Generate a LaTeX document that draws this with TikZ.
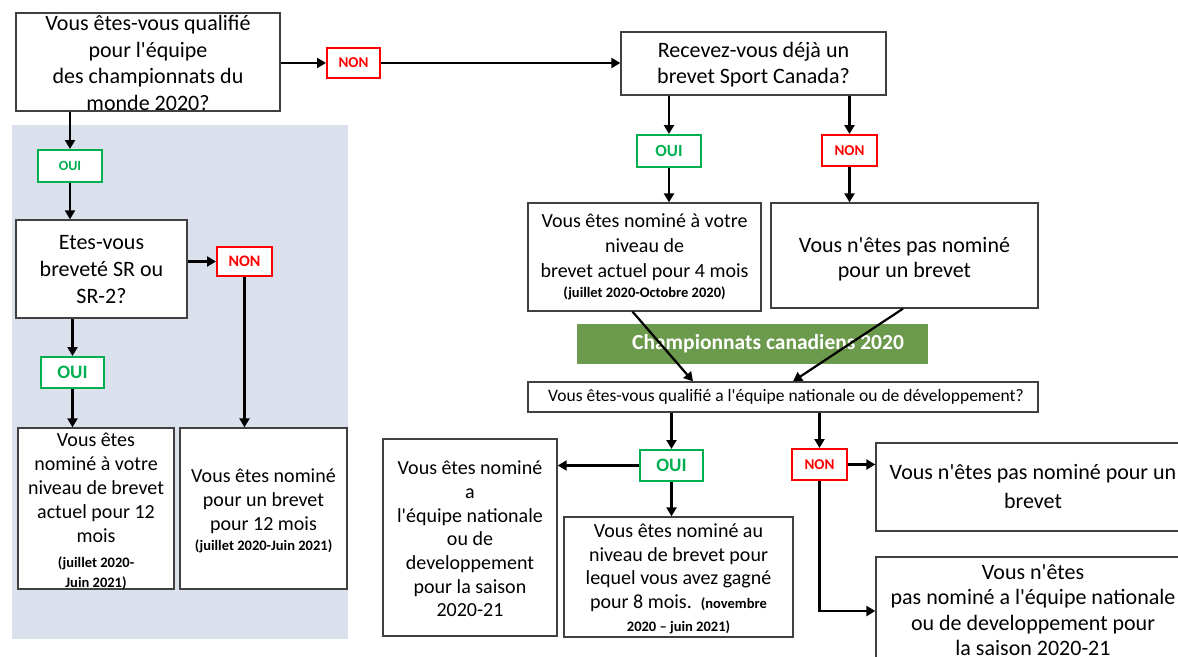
\documentclass[tikz,border=0pt]{standalone}
\usepackage{fontspec}
\setmainfont{Carlito}[Ligatures=TeXOff]
\usepackage{tikz}
\usetikzlibrary{arrows.meta, positioning, calc}
\usepackage{xcolor}

\definecolor{boxgray}{HTML}{404040}
\definecolor{ouigreen}{HTML}{00B050}
\definecolor{nonred}{HTML}{FF0000}
\definecolor{panelblue}{HTML}{DAE0EC}
\definecolor{bannergreen}{HTML}{6C9A4C}

\tikzset{
  box/.style={draw=boxgray, line width=1.3pt, fill=white, inner sep=0pt},
  txt/.style={align=center, inner sep=0pt, font=\fontsize{20}{24}\selectfont},
  small/.style={align=center, inner sep=0pt, font=\bfseries\fontsize{14.5}{20}\selectfont},
  oui/.style={draw=ouigreen, line width=2pt, fill=white, text=ouigreen, inner sep=0pt,
    font=\bfseries\fontsize{15}{15}\selectfont, minimum width=63pt, minimum height=31pt},
  non/.style={draw=nonred, line width=2pt, fill=white, text=nonred, inner sep=0pt,
    font=\bfseries\fontsize{15}{15}\selectfont, minimum width=55pt, minimum height=30pt},
  arr/.style={line width=2.2pt, -{Triangle[length=9pt,width=10pt]}}
}

\begin{document}
\begin{tikzpicture}[x=1pt,y=-1pt]
  \useasboundingbox (0,0) rectangle (1178,656);
  % left panel
  \fill[panelblue] (12,125) rectangle (348,639);

  % questions
  \node[box, minimum width=264pt, minimum height=98pt] (qmonde) at (148,62) {};
  \node[txt, font=\fontsize{22}{26.5}\selectfont] (qmonde-t) at (148,63)
    {Vous êtes-vous qualifié\\pour l'équipe\\des championnats du\\monde 2020?};
  \node[box, minimum width=265pt, minimum height=63pt] (qbrevet) at (753.5,63.5) {};
  \node[txt, font=\fontsize{22}{26}\selectfont] (qbrevet-t) at (753.5,65)
    {Recevez-vous déjà un\\brevet Sport Canada?};
  \node[box, minimum width=171pt, minimum height=98pt] (qsr) at (101.5,269) {};
  \node[txt, font=\fontsize{22}{27}\selectfont] (qsr-t) at (101.5,270)
    {Etes-vous\\breveté SR ou\\SR-2?};
  \node[box, minimum width=510pt, minimum height=30pt] (qnat) at (783,397) {};
  \node[txt, font=\fontsize{17.5}{20}\selectfont] (qnat-t) at (786,397)
    {Vous êtes-vous qualifié a l'équipe nationale ou de développement?};

  % answers
  \node[oui, minimum width=64pt, minimum height=32pt, font=\bfseries\fontsize{14}{14}\selectfont] (oui1) at (70,166) {OUI};
  \node[non, minimum width=53pt] (non1) at (353.5,63) {NON};
  \node[oui, minimum width=64pt, minimum height=32pt, font=\bfseries\fontsize{17}{17}\selectfont] (oui2) at (669,151) {OUI};
  \node[non, minimum height=31pt] (non2) at (849.5,150.5) {NON};
  \node[oui, font=\bfseries\fontsize{19}{19}\selectfont] (oui3) at (671.5,465.5) {OUI};
  \node[non, minimum height=31pt] (non3) at (819.5,464.5) {NON};
  \node[oui, font=\bfseries\fontsize{19}{19}\selectfont] (oui4) at (72.5,372.5) {OUI};
  \node[non, minimum height=29pt, font=\bfseries\fontsize{16}{16}\selectfont] (non4) at (244.5,261.5) {NON};

  % results, right part
  \node[box, minimum width=233pt, minimum height=108pt] (nom4) at (644.5,257) {};
  \node[txt, font=\fontsize{20}{25}\selectfont] (nom4-t) at (644.5,247)
    {Vous êtes nominé à votre\\niveau de\\brevet actuel pour 4 mois};
  \node[small] (nom4-d) at (644.5,293) {(juillet 2020-Octobre 2020)};
  \node[box, minimum width=267pt, minimum height=105pt] (pasnom1) at (904.5,255.5) {};
  \node[txt, font=\fontsize{22}{25}\selectfont] (pasnom1-t) at (904.5,259.5)
    {Vous n'êtes pas nominé\\pour un brevet};
  \node[fill=bannergreen, minimum width=351pt, minimum height=40pt, inner sep=0pt] (banner) at (752.5,344) {};
  \node[text=white, font=\bfseries\fontsize{21.5}{22}\selectfont, inner sep=0pt] (banner-t) at (768,344)
    {Championnats canadiens 2020};
  \node[box, minimum width=174pt, minimum height=197pt] (nomnat) at (470,537.5) {};
  \node[txt, font=\fontsize{20}{23.7}\selectfont] (nomnat-t) at (470,539)
    {Vous êtes nominé\\a\\l'équipe nationale\\ou de\\developpement\\pour la saison\\2020-21};
  \node[box, minimum width=229pt, minimum height=120pt] (nom8) at (678.5,577) {};
  \node[txt, font=\fontsize{20}{23.5}\selectfont] (nom8-t) at (678.5,579)
    {Vous êtes nominé au\\niveau de brevet pour\\lequel vous avez gagné\\pour 8 mois.\ \ {\bfseries\fontsize{14.5}{16}\selectfont(novembre}\\{\bfseries\fontsize{14.5}{16}\selectfont 2020 – juin 2021)}};
  \node[box, minimum width=314pt, minimum height=88pt] (pasnom2) at (1033,487) {};
  \node[txt, font=\fontsize{22}{29}\selectfont] (pasnom2-t) at (1033,487)
    {Vous n'êtes pas nominé pour un\\brevet};
  \node[box, minimum width=314pt, minimum height=108pt] (pasnom3) at (1033,611) {};
  \node[txt, font=\fontsize{22}{25.5}\selectfont] (pasnom3-t) at (1033,610)
    {Vous n'êtes\\pas nominé a l'équipe nationale\\ou de developpement pour\\la saison 2020-21};

  % results, left panel
  \node[box, minimum width=156pt, minimum height=161pt] (nom12) at (96,508.5) {};
  \node[txt, font=\fontsize{20}{24}\selectfont] (nom12-t) at (96,488)
    {Vous êtes\\nominé à votre\\niveau de brevet\\actuel pour 12\\mois};
  \node[small] (nom12-d) at (96,573) {(juillet 2020-\\Juin 2021)};
  \node[box, minimum width=167pt, minimum height=161pt] (nom12b) at (263.5,508.5) {};
  \node[txt, font=\fontsize{20}{24}\selectfont] (nom12b-t) at (263.5,501)
    {Vous êtes nominé\\pour un brevet\\pour 12 mois};
  \node[small] (nom12b-d) at (263.5,546) {(juillet 2020-Juin 2021)};

  % arrows
  \draw[arr] (qmonde.south -| oui1) -- (oui1.north);
  \draw[arr] (oui1.south) -- (oui1.south |- qsr.north);
  \draw[arr] (qmonde.east |- non1) -- (non1.west);
  \draw[arr] (non1.east) -- (non1.east -| qbrevet.west);
  \draw[arr] (qbrevet.south -| oui2) -- (oui2.north);
  \draw[arr] (qbrevet.south -| non2) -- (non2.north);
  \draw[arr] (oui2.south) -- (oui2.south |- nom4.north);
  \draw[arr] (non2.south) -- (non2.south |- pasnom1.north);
  \draw[arr] ([xshift=-12pt]nom4.south) -- ([xshift=-90pt]qnat.north);
  \draw[arr] ([xshift=-1.5pt]pasnom1.south) -- ([xshift=10pt]qnat.north);
  \draw[arr] (qnat.south -| oui3) -- (oui3.north);
  \draw[arr] (qnat.south -| non3) -- (non3.north);
  \draw[arr] (oui3.west) -- (oui3.west -| nomnat.east);
  \draw[arr] (oui3.south) -- (oui3.south |- nom8.north);
  \draw[arr] (non3.east) -- (non3.east -| pasnom2.west);
  \draw[arr] (non3.south) |- (pasnom3.west);
  \draw[arr] (qsr.east |- non4) -- (non4.west);
  \draw[arr] (non4.south) -- (non4.south |- nom12b.north);
  \draw[arr] (qsr.south -| oui4) -- (oui4.north);
  \draw[arr] (oui4.south) -- (oui4.south |- nom12.north);
\end{tikzpicture}
\end{document}
